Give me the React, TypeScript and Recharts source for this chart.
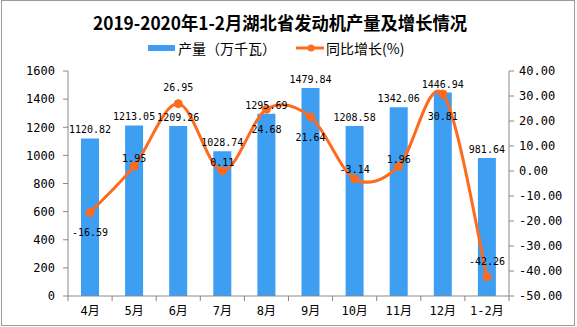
import React from 'react';
import { ComposedChart, Bar, Line, XAxis, YAxis, LabelList } from 'recharts';

const months = ['4月', '5月', '6月', '7月', '8月', '9月', '10月', '11月', '12月', '1-2月'];
const output = [1120.82, 1213.05, 1209.26, 1028.74, 1295.69, 1479.84, 1208.58, 1342.06, 1446.94, 981.64];
const growth = [-16.59, 1.95, 26.95, 0.11, 24.68, 21.64, -3.14, 1.96, 30.81, -42.26];
const leftTicks = [0, 200, 400, 600, 800, 1000, 1200, 1400, 1600];
const rightTicks = [-50, -40, -30, -20, -10, 0, 10, 20, 30, 40];

const title = '2019-2020年1-2月湖北省发动机产量及增长情况';
const barName = '产量（万千瓦）';
const lineName = '同比增长(%)';

const data = months.map((m, i) => ({ month: m, output: output[i], growth: growth[i] }));

const BAR = '#3d9ef2';
const LINE = '#ff6a1c';
const AXIS = '#888888';
const NUM_FONT = '"DejaVu Sans Mono", "Noto Sans CJK SC", monospace';
const CJK_FONT = '"Noto Sans CJK SC", sans-serif';

// vertical offsets of growth labels from their points
const growthLabelDy = [20, -8, -16, -8, 20, 20, -9, -7, 22, -15];

const catmullRom = (context: any) => {
  let pts: [number, number][] = [];
  return {
    areaStart() {},
    areaEnd() {},
    lineStart() {
      pts = [];
    },
    point(x: number, y: number) {
      pts.push([+x, +y]);
    },
    lineEnd() {
      if (!pts.length) return;
      context.moveTo(pts[0][0], pts[0][1]);
      for (let i = 0; i < pts.length - 1; i++) {
        const p0 = pts[i - 1] || pts[i];
        const p1 = pts[i];
        const p2 = pts[i + 1];
        const p3 = pts[i + 2] || p2;
        context.bezierCurveTo(
          p1[0] + (p2[0] - p0[0]) / 6,
          p1[1] + (p2[1] - p0[1]) / 6,
          p2[0] - (p3[0] - p1[0]) / 6,
          p2[1] - (p3[1] - p1[1]) / 6,
          p2[0],
          p2[1]
        );
      }
    },
  };
};

const CHART_W = 577;
const CHART_H = 327;
const LEFT_W = 68;
const RIGHT_W = 68;
const BAND = (CHART_W - LEFT_W - RIGHT_W) / months.length;
const X_TICK_SIZE = 5;
const X_TICK_MARGIN = 6;

const XTick = (props: any) => {
  const { x, y, payload, index } = props;
  const axisY = y - X_TICK_SIZE - X_TICK_MARGIN;
  return (
    <g>
      <line x1={x - BAND / 2} x2={x - BAND / 2} y1={axisY} y2={axisY + X_TICK_SIZE} stroke={AXIS} />
      {index === months.length - 1 && (
        <line x1={x + BAND / 2} x2={x + BAND / 2} y1={axisY} y2={axisY + X_TICK_SIZE} stroke={AXIS} />
      )}
      <text x={x} y={y} dy="0.7em" textAnchor="middle" fontSize={12} fontFamily={NUM_FONT} fill="#000">
        {payload.value}
      </text>
    </g>
  );
};

const GrowthLabel = (props: any) => {
  const { x, y, value, index } = props;
  return (
    <text
      x={x}
      y={y + growthLabelDy[index]}
      dy="0.36em"
      textAnchor="middle"
      fontSize={10}
      fontFamily={NUM_FONT}
      fill="#000"
    >
      {Number(value).toFixed(2)}
    </text>
  );
};

export default function App() {
  return (
    <div style={{ position: 'absolute', left: 0, top: 0, width: CHART_W, height: CHART_H, background: '#fff' }}>
      <div
        style={{
          position: 'absolute',
          left: 1,
          top: 0,
          width: 574,
          height: 326,
          border: '1px solid #9a9a9a',
          boxSizing: 'border-box',
        }}
      />
      <svg width={CHART_W} height={40} style={{ position: 'absolute', left: 0, top: 0 }}>
        <text
          x={93}
          y={30}
          textLength={374}
          lengthAdjust="spacingAndGlyphs"
          fontFamily={CJK_FONT}
          fontWeight="bold"
          fontSize={18}
          fill="#000"
        >
          {title}
        </text>
      </svg>
      <div
        style={{
          position: 'absolute',
          left: 148,
          top: 39,
          height: 18,
          display: 'flex',
          alignItems: 'center',
          fontFamily: CJK_FONT,
          fontSize: 14,
          color: '#000',
          whiteSpace: 'nowrap',
        }}
      >
        <svg width={27} height={8} style={{ marginRight: 3 }}>
          <rect x={0} y={1} width={27} height={6} fill={BAR} />
        </svg>
        <span>{barName}</span>
        <svg width={28} height={10} style={{ marginLeft: 20, marginRight: 2 }}>
          <line x1={0} x2={28} y1={5} y2={5} stroke={LINE} strokeWidth={3} />
          <circle cx={15} cy={5} r={3.5} fill={LINE} />
        </svg>
        <span>{lineName}</span>
      </div>
      <ComposedChart
        width={CHART_W}
        height={CHART_H}
        data={data}
        margin={{ top: 71, right: 0, bottom: 0, left: 0 }}
        style={{ position: 'absolute', left: 0, top: 0 }}
      >
        <XAxis
          dataKey="month"
          height={31}
          stroke={AXIS}
          tickLine={false}
          tickSize={X_TICK_SIZE}
          tickMargin={X_TICK_MARGIN}
          tick={<XTick />}
          interval={0}
        />
        <YAxis
          yAxisId="left"
          width={LEFT_W}
          domain={[0, 1600]}
          ticks={leftTicks}
          stroke={AXIS}
          tickSize={5}
          tickMargin={8}
          interval={0}
          tick={{ fill: '#000', fontSize: 12, fontFamily: NUM_FONT }}
        />
        <YAxis
          yAxisId="right"
          orientation="right"
          width={RIGHT_W}
          domain={[-50, 40]}
          ticks={rightTicks}
          stroke={AXIS}
          tickSize={5}
          tickMargin={5}
          interval={0}
          tickFormatter={(v: number) => v.toFixed(2)}
          tick={{ fill: '#000', fontSize: 12, fontFamily: NUM_FONT, textAnchor: 'start' }}
        />
        <Bar yAxisId="left" dataKey="output" fill={BAR} barSize={18} isAnimationActive={false}>
          <LabelList
            dataKey="output"
            position="top"
            offset={5}
            fontSize={10}
            fontFamily={NUM_FONT}
            fill="#000"
            formatter={(v: any) => Number(v).toFixed(2)}
          />
        </Bar>
        <Line
          yAxisId="right"
          dataKey="growth"
          type={catmullRom as any}
          stroke={LINE}
          strokeWidth={3}
          dot={{ r: 4, fill: LINE, stroke: LINE, strokeWidth: 1 }}
          activeDot={false}
          isAnimationActive={false}
        >
          <LabelList dataKey="growth" content={<GrowthLabel />} />
        </Line>
      </ComposedChart>
    </div>
  );
}
